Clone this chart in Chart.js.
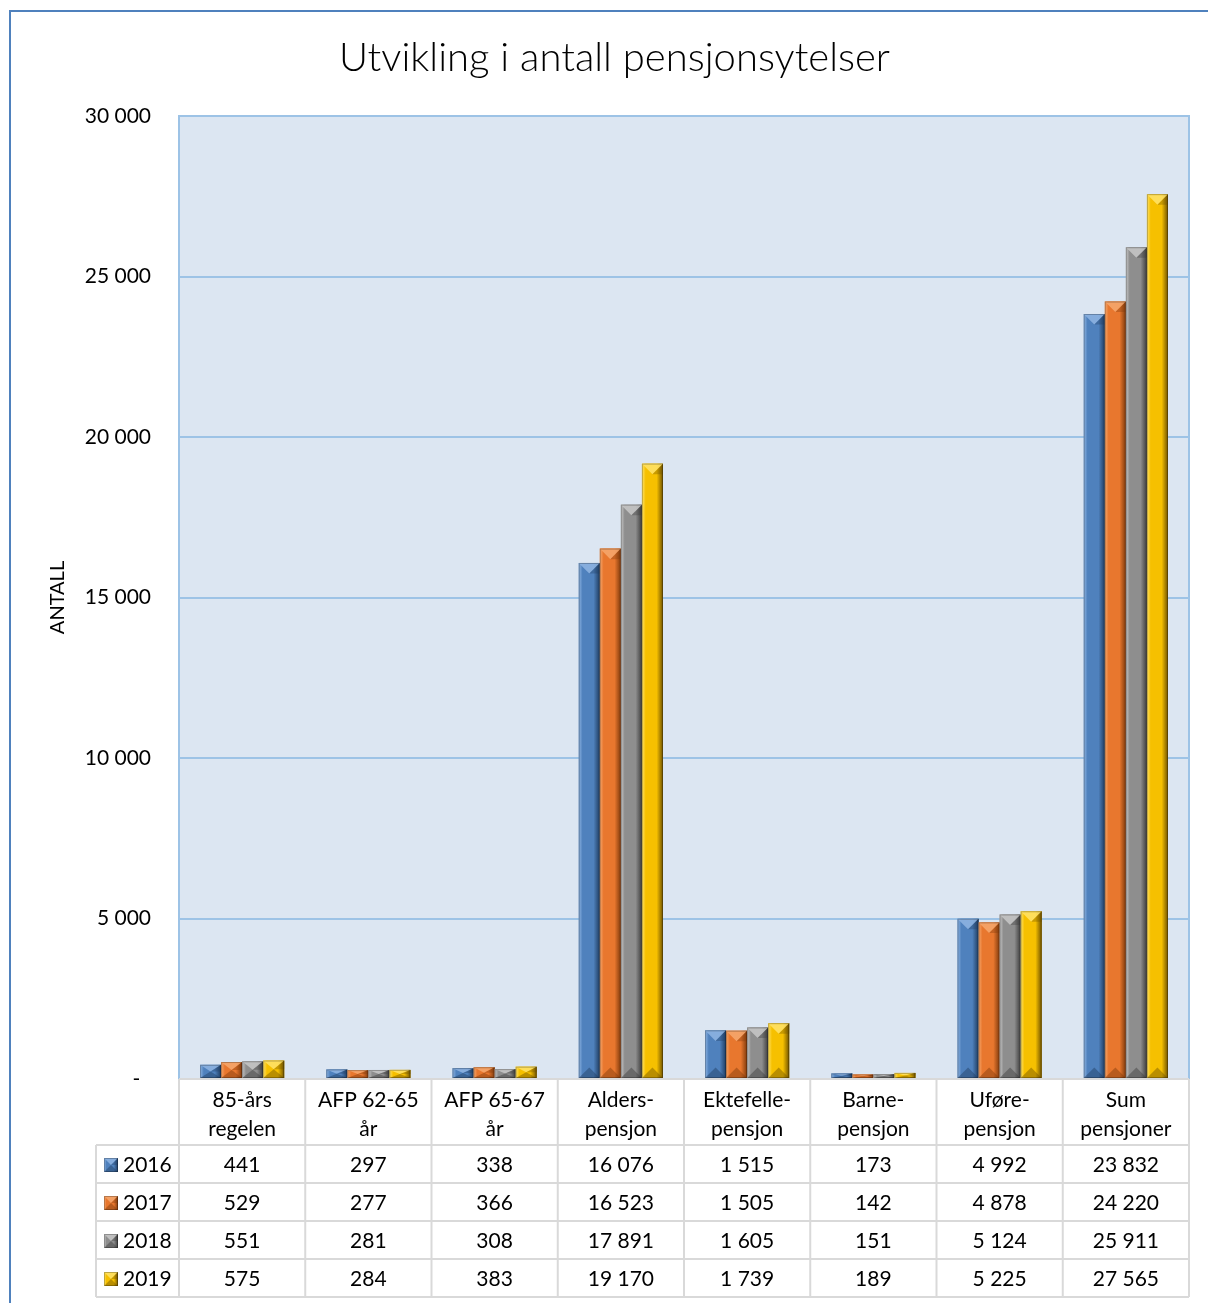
<!DOCTYPE html>
<html>
<head>
<meta charset="utf-8">
<script src="https://cdn.jsdelivr.net/npm/chart.js@4/dist/chart.umd.min.js"></script>
<style>
html,body{margin:0;padding:0;background:#fff;}
#wrap{position:relative;width:1208px;height:1303px;}
#frame{position:absolute;left:9px;top:10px;width:1210px;height:1300px;border-left:2px solid #4f81bd;border-top:2px solid #4f81bd;box-sizing:border-box;pointer-events:none;}
canvas{position:absolute;left:0;top:0;}
</style>
</head>
<body>
<div id="wrap"><canvas id="c" width="1208" height="1303"></canvas><div id="frame"></div></div>
<script>
const chartTitle = 'Utvikling i antall pensjonsytelser';
const yAxisTitle = 'ANTALL';
const categories = [['85-års','regelen'],['AFP 62-65','år'],['AFP 65-67','år'],['Alders-','pensjon'],['Ektefelle-','pensjon'],['Barne-','pensjon'],['Uføre-','pensjon'],['Sum','pensjoner']];
const seriesNames = ['2016','2017','2018','2019'];
const values2016 = [441, 297, 338, 16076, 1515, 173, 4992, 23832];
const values2017 = [529, 277, 366, 16523, 1505, 142, 4878, 24220];
const values2018 = [551, 281, 308, 17891, 1605, 151, 5124, 25911];
const values2019 = [575, 284, 383, 19170, 1739, 189, 5225, 27565];
const yTicks = [0, 5000, 10000, 15000, 20000, 25000, 30000];

const palette = [
  {base:'#4f81bd', light:'#8fb5e3', dark:'#1f3c60'},
  {base:'#e8772e', light:'#f6a86e', dark:'#7f3a0c'},
  {base:'#8e8e8e', light:'#c8c8c8', dark:'#3c3c3c'},
  {base:'#f6c000', light:'#ffe36a', dark:'#6f5200'}
];
const FONT = 'Lato, "Open Sans", sans-serif';
const fmt = v => v === 0 ? '-' : String(v).replace(/\B(?=(\d{3})+(?!\d))/g, ' ');

function bevelRect(ctx, left, top, w, h, col){
  if (h <= 0 || w <= 0) return;
  const g = ctx.createLinearGradient(left, 0, left + w, 0);
  g.addColorStop(0, col.light);
  g.addColorStop(0.18, col.base);
  g.addColorStop(0.7, col.base);
  g.addColorStop(1, col.dark);
  ctx.fillStyle = g;
  ctx.fillRect(left, top, w, h);
  const b = Math.min(w / 2, h / 2);
  ctx.beginPath();
  ctx.moveTo(left, top); ctx.lineTo(left + w, top); ctx.lineTo(left + w / 2, top + b); ctx.closePath();
  ctx.fillStyle = col.light; ctx.globalAlpha = 0.85; ctx.fill();
  ctx.beginPath();
  ctx.moveTo(left + w, top); ctx.lineTo(left + w / 2, top + b); ctx.lineTo(left + w, top + b); ctx.closePath();
  ctx.fillStyle = col.dark; ctx.globalAlpha = 0.35; ctx.fill();
  ctx.beginPath();
  ctx.moveTo(left, top + h); ctx.lineTo(left + w, top + h); ctx.lineTo(left + w / 2, top + h - b); ctx.closePath();
  ctx.fillStyle = col.dark; ctx.globalAlpha = 0.45; ctx.fill();
  ctx.globalAlpha = 1;
  ctx.strokeStyle = 'rgba(0,0,0,0.25)'; ctx.lineWidth = 1;
  ctx.strokeRect(left + 0.5, top + 0.5, w - 1, h - 1);
}

const bevelPlugin = {
  id: 'bevel',
  beforeDraw(chart){
    const {ctx, chartArea:a} = chart;
    ctx.save();
    ctx.fillStyle = '#dce6f2';
    ctx.fillRect(a.left, a.top, a.right - a.left, a.bottom - a.top);
    ctx.restore();
  },
  afterDatasetsDraw(chart){
    const ctx = chart.ctx;
    ctx.save();
    chart.data.datasets.forEach((ds, i) => {
      const meta = chart.getDatasetMeta(i);
      meta.data.forEach(el => {
        const w = el.width, left = el.x - w / 2;
        bevelRect(ctx, left, el.y, w, el.base - el.y, palette[i]);
      });
    });
    ctx.restore();
  },
  afterDraw(chart){
    const {ctx, chartArea:a, scales:{x}} = chart;
    ctx.save();
    ctx.strokeStyle = '#9dc3e6'; ctx.lineWidth = 2;
    ctx.beginPath();
    ctx.moveTo(a.left, a.bottom); ctx.lineTo(a.left, a.top); ctx.lineTo(a.right, a.top); ctx.lineTo(a.right, a.bottom);
    ctx.stroke();
    const rowTop = a.bottom, headerH = 66, rowH = 38;
    const tableLeft = 96;
    const n = categories.length;
    const cw = (a.right - a.left) / n;
    const firstData = rowTop + headerH;
    const bottom = firstData + rowH * seriesNames.length;
    ctx.strokeStyle = '#d9d9d9'; ctx.lineWidth = 2;
    ctx.beginPath();
    ctx.moveTo(a.left, rowTop); ctx.lineTo(a.right, rowTop);
    for (let r = 0; r <= seriesNames.length; r++){
      const yy = firstData + r * rowH;
      ctx.moveTo(tableLeft, yy); ctx.lineTo(a.right, yy);
    }
    for (let c = 0; c <= n; c++){
      const xx = a.left + c * cw;
      ctx.moveTo(xx, rowTop); ctx.lineTo(xx, bottom);
    }
    ctx.moveTo(tableLeft, firstData); ctx.lineTo(tableLeft, bottom);
    ctx.stroke();
    ctx.fillStyle = '#000'; ctx.font = '21px ' + FONT; ctx.textBaseline = 'middle';
    const all = [values2016, values2017, values2018, values2019];
    all.forEach((vals, r) => {
      const cy = firstData + r * rowH + rowH / 2 + 1;
      ctx.textAlign = 'center';
      ctx.fillStyle = '#000';
      vals.forEach((v, c) => { ctx.fillText(fmt(v), x.getPixelForValue(c), cy); });
      bevelRect(ctx, 104, cy - 7, 14, 14, palette[r]);
      ctx.textAlign = 'left';
      ctx.fillStyle = '#000';
      ctx.fillText(seriesNames[r], 123, cy);
    });
    ctx.restore();
  }
};

new Chart(document.getElementById('c'), {
  type: 'bar',
  data: {
    labels: categories,
    datasets: [values2016, values2017, values2018, values2019].map((d, i) => ({
      label: seriesNames[i], data: d, backgroundColor: palette[i].base, borderWidth: 0,
      barPercentage: 1, categoryPercentage: 0.667
    }))
  },
  options: {
    responsive: false, animation: false, devicePixelRatio: 1,
    layout: {padding: {left: 40, right: 19, top: 0, bottom: 0}},
    plugins: {
      legend: {display: false}, tooltip: {enabled: false},
      title: {display: true, text: chartTitle, color: '#000', font: {family: FONT, size: 40, weight: '300'}, padding: {top: 34, bottom: 34}}
    },
    scales: {
      x: {
        grid: {display: false, drawTicks: false}, border: {display: false},
        ticks: {color: '#000', font: {family: FONT, size: 21, lineHeight: 1.38}, padding: 7, maxRotation: 0, autoSkip: false},
        afterFit(s){ s.height = 224; }
      },
      y: {
        min: 0, max: 30000,
        afterBuildTicks(s){ s.ticks = yTicks.map(v => ({value: v})); },
        grid: {color: '#9dc3e6', lineWidth: 2, drawTicks: false}, border: {display: false},
        ticks: {color: '#000', font: {family: FONT, size: 21}, padding: 28, callback: v => v === 0 ? fmt(v) + '  ' : fmt(v)},
        title: {display: true, text: yAxisTitle, color: '#000', font: {family: FONT, size: 20}, padding: {top: 6, bottom: 0}},
        afterFit(s){ s.width = 139; }
      }
    }
  },
  plugins: [bevelPlugin]
});
</script>
</body>
</html>
